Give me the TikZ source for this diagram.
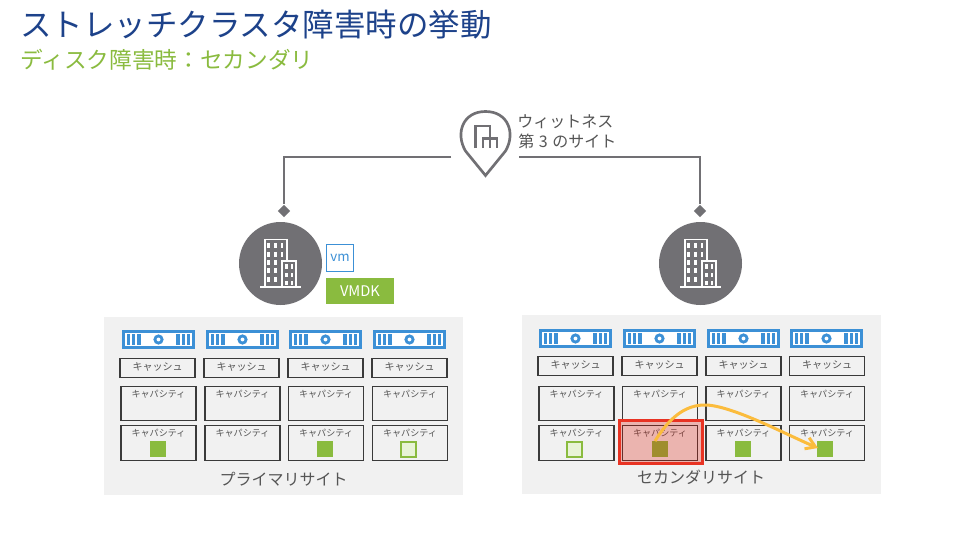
\documentclass[tikz,border=0pt]{standalone}
\usepackage{fontspec}
\setmainfont{Noto Sans CJK JP}
\usetikzlibrary{arrows.meta}
\definecolor{ttl}{HTML}{1D428A}
\definecolor{grn}{HTML}{8ABB3F}
\definecolor{lgrn}{HTML}{E8F3D6}
\definecolor{blu}{HTML}{3C90D6}
\definecolor{gry}{HTML}{717074}
\definecolor{pan}{HTML}{F1F1F1}
\definecolor{lab}{HTML}{555555}
\definecolor{bx}{HTML}{3A3A3A}
\definecolor{amb}{HTML}{FBBC3D}
\definecolor{redf}{HTML}{DB1200}
\definecolor{redl}{HTML}{E83323}
\tikzset{
  x=0.75pt,y=-0.75pt,
  txt/.style={inner sep=0pt,anchor=center,text=lab},
  panel/.style={fill=pan,draw=none},
  drive/.style={draw=bx,line width=0.9pt,fill=pan},
  link/.style={draw=gry,line width=1.5pt},
  pin/.style={fill=gry,draw=none},
}
\newcommand{\srv}[2]{%
  \begin{scope}[shift={(#1,#2)}]
    \fill[blu] (0,0) rectangle (73,19);
    \fill[white] (3,3) rectangle (70,16);
    \foreach \q in {4.7,9.9,15.1,54.4,59.6,64.8}{\fill[blu] (\q,4) rectangle ++(3.4,11);}
    \draw[blu,line width=2.1pt,fill=white] (36.5,9.5) circle (3.6);
  \end{scope}}
\newcommand{\bldg}[2]{%
  \begin{scope}[shift={(#1,#2)}]
    \fill[gry] (0,0) circle (41.5);
    \draw[white,line width=1.05pt] (-15.5,23.5) -- (-15.5,-24) -- (6.5,-24) -- (6.5,-2.5);
    \draw[white,line width=1.05pt] (1.5,23.5) -- (1.5,-2.5) -- (15.5,-2.5) -- (15.5,23.5);
    \draw[white,line width=1.05pt] (-20.5,23.5) -- (20.5,23.5);
    \foreach \a in {-13.2,-6.5,0}{\foreach \b in {-20.5,-11.5,-3.5,4.5,13.5}{\fill[white] (\a,\b) rectangle ++(2.6,5);}}
    \foreach \a in {4.5,10.2}{\foreach \b in {0.5,9,17}{\fill[white] (\a,\b) rectangle ++(2.6,4.8);}}
  \end{scope}}
\newcommand{\sq}[2]{\fill[grn] (#1,#2) rectangle ++(16,16);}
\newcommand{\hsq}[2]{\draw[grn,line width=1.5pt,fill=lgrn] (#1+1,#2+1) rectangle ++(15,15);}
\begin{document}
\begin{tikzpicture}
\useasboundingbox (0,0) rectangle (978,535);
\fill[white] (0,0) rectangle (978,535);
\node[anchor=west,inner sep=0pt,text=ttl,font=\fontsize{23.6}{26}\selectfont] (title) at (20,25) {ストレッチクラスタ障害時の挙動};
\node[anchor=west,inner sep=0pt,text=grn,font=\fontsize{17}{20}\selectfont] (sub) at (20,60) {ディスク障害時：セカンダリ};
% witness
\draw[gry,line width=2pt,line join=miter] (485.5,175.5) -- (465.5,151) .. controls (455,133) and (463,111.5) .. (485.5,111.5) .. controls (508,111.5) and (516,133) .. (505.5,151) -- cycle;
\draw[gry,line width=1.8pt] (475.5,148) -- (475.5,126) -- (490,126) -- (490,148);
\draw[gry,line width=1.8pt] (483,148) -- (483,138.5) -- (497,138.5) -- (497,148);
\node[anchor=west,inner sep=0pt,text=lab,font=\fontsize{12}{14}\selectfont] (w1) at (517,122) {ウィットネス};
\node[anchor=west,inner sep=0pt,text=lab,font=\fontsize{12}{14}\selectfont] (w2) at (518,141) {第\hspace{3.5pt}3\hspace{3.5pt}のサイト};
\coordinate (wl) at (451,157);
\coordinate (wr) at (519,157);
\node[pin,minimum size=6.5pt,inner sep=0pt,rotate=45] (dl) at (284,211) {};
\node[pin,minimum size=6.5pt,inner sep=0pt,rotate=45] (dr) at (700,211) {};
\draw[link] (wl) -| (dl);
\draw[link] (wr) -| (dr);
\bldg{280.5}{263.5}
\bldg{700.5}{263.5}
% vm
\node[draw=blu,line width=1pt,fill=white,minimum size=20pt,inner sep=0pt,text=blu,font=\fontsize{10}{11}\selectfont] (vm) at (340,258) {vm};
\node[fill=grn,text=white,minimum width=51pt,minimum height=19.5pt,inner sep=0pt,font=\fontsize{11}{13}\selectfont] (vmdk) at (360,291) {VMDK};
% panels
\fill[panel] (104,317) rectangle (463,495);
\fill[panel] (522,315) rectangle (881,494);
% left
\foreach \x in {122,206,289,373}{\srv{\x}{330}}
\foreach \x in {120,204,288,372}{\draw[drive] (\x,358.5) rectangle ++(75,19); \node[txt,font=\fontsize{7.5}{9}\selectfont] at (\x+37.5,366.5) {キャッシュ};}
\foreach \x in {121,205,288.5,372.5}{
  \draw[drive] (\x,386.5) rectangle ++(75,34);
  \node[txt,font=\fontsize{6.8}{8}\selectfont] at (\x+37.5,394) {キャパシティ};
  \draw[drive] (\x,425.5) rectangle ++(75,35);
  \node[txt,font=\fontsize{6.8}{8}\selectfont] at (\x+37.5,433) {キャパシティ};
}
\sq{150}{441}
\sq{317}{441}
\hsq{400}{441}
\node[txt,font=\fontsize{12}{14}\selectfont] (pl) at (283.5,479) {プライマリサイト};
% right
\foreach \x in {539,623,707,790}{\srv{\x}{329}}
\foreach \x in {538,622,706,789.5}{\draw[drive] (\x,356.5) rectangle ++(75,19); \node[txt,font=\fontsize{7.5}{9}\selectfont] at (\x+37.5,364.5) {キャッシュ};}
\foreach \x in {539,622.5,706,789.5}{
  \draw[drive] (\x,386.5) rectangle ++(75,34);
  \node[txt,font=\fontsize{6.8}{8}\selectfont] at (\x+37.5,394) {キャパシティ};
  \draw[drive] (\x,425.5) rectangle ++(75,35);
  \node[txt,font=\fontsize{6.8}{8}\selectfont] at (\x+37.5,433) {キャパシティ};
}
\hsq{566}{441}
\sq{652}{441}
\sq{735}{441}
\sq{817}{441}
\node[txt,font=\fontsize{12}{14}\selectfont] (pr) at (701,477) {セカンダリサイト};
% failed
\fill[redf,opacity=0.27] (619.5,420.5) rectangle (702.5,463.5);
\draw[redl,line width=2.25pt] (619.5,420.5) rectangle (702.5,463.5);
% move arrow
\draw[amb,line width=2.25pt,-{Straight Barb[length=7pt,width=9pt]}] (655,441) .. controls (668,420) and (684,404) .. (707,405) .. controls (735,407) and (785,434) .. (818,448);
\end{tikzpicture}
\end{document}
